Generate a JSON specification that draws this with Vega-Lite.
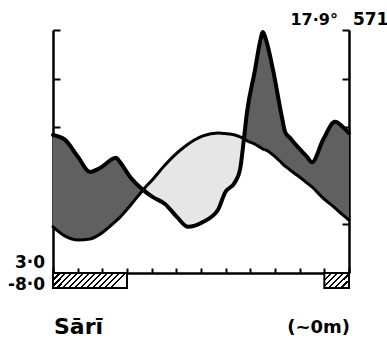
{
  "$schema": "https://vega.github.io/schema/vega-lite/v6.json",
  "width": 296,
  "height": 243,
  "autosize": {"type": "none"},
  "padding": {"left": 53, "top": 30, "right": 38, "bottom": 73},
  "background": "white",
  "config": {
    "view": {"stroke": null},
    "axis": {"labels": false, "grid": false, "domainColor": "black", "domainWidth": 2.5, "tickColor": "black", "tickWidth": 2, "zindex": 1},
    "axisX": {"tickSize": -5, "tickCount": 12},
    "axisY": {"tickSize": -7, "tickCount": 5}
  },
  "datasets": {
    "climate": [
      {"m": 0, "p": 28.4, "t": 9.5},
      {"m": 0.49, "p": 27.4, "t": 7.6},
      {"m": 1.01, "p": 23.9, "t": 6.8},
      {"m": 1.5, "p": 20.8, "t": 7.0},
      {"m": 1.91, "p": 21.6, "t": 8.0},
      {"m": 2.55, "p": 23.7, "t": 10.7},
      {"m": 2.72, "p": 22.8, "t": 11.5},
      {"m": 3.12, "p": 19.8, "t": 13.8},
      {"m": 3.65, "p": 17.1, "t": 17.1},
      {"m": 4.05, "p": 15.6, "t": 19.3},
      {"m": 4.54, "p": 14.2, "t": 22.2},
      {"m": 5.03, "p": 11.5, "t": 24.7},
      {"m": 5.47, "p": 9.5, "t": 26.5},
      {"m": 6.08, "p": 10.5, "t": 28.2},
      {"m": 6.69, "p": 13.0, "t": 28.8},
      {"m": 6.97, "p": 16.5, "t": 28.7},
      {"m": 7.38, "p": 18.7, "t": 28.4},
      {"m": 7.58, "p": 21.2, "t": 28.0},
      {"m": 7.74, "p": 27.6, "t": 27.6},
      {"m": 7.86, "p": 32.9, "t": 27.2},
      {"m": 8.19, "p": 41.8, "t": 26.5},
      {"m": 8.39, "p": 47.5, "t": 25.9},
      {"m": 8.51, "p": 49.6, "t": 25.5},
      {"m": 8.64, "p": 47.9, "t": 25.3},
      {"m": 8.92, "p": 41.8, "t": 24.3},
      {"m": 9.28, "p": 32.1, "t": 22.6},
      {"m": 9.41, "p": 29.0, "t": 22.0},
      {"m": 9.61, "p": 27.8, "t": 21.2},
      {"m": 9.93, "p": 25.9, "t": 20.0},
      {"m": 10.3, "p": 23.9, "t": 18.5},
      {"m": 10.5, "p": 22.8, "t": 17.7},
      {"m": 10.95, "p": 27.4, "t": 15.4},
      {"m": 11.43, "p": 31.1, "t": 13.4},
      {"m": 11.76, "p": 30.0, "t": 11.9},
      {"m": 12, "p": 28.8, "t": 10.9}
    ]
  },
  "resolve": {"axis": {"y": "independent"}},
  "layer": [
    {
      "data": {"name": "climate"},
      "transform": [{"filter": {"field": "m", "range": [0, 3.65]}}],
      "mark": {"type": "area", "interpolate": "monotone", "fill": "#606060"},
      "encoding": {
        "x": {"field": "m", "type": "quantitative", "title": null, "scale": {"domain": [0, 12], "nice": false, "zero": false}},
        "y": {"field": "p", "type": "quantitative", "title": null, "scale": {"domain": [0, 50], "nice": false, "zero": false}, "axis": {"orient": "left"}},
        "y2": {"field": "t"}
      }
    },
    {
      "data": {"name": "climate"},
      "transform": [{"filter": {"field": "m", "range": [3.65, 7.74]}}],
      "mark": {"type": "area", "interpolate": "monotone", "fill": "#e6e6e6"},
      "encoding": {
        "x": {"field": "m", "type": "quantitative", "title": null, "scale": {"domain": [0, 12], "nice": false, "zero": false}},
        "y": {"field": "p", "type": "quantitative", "title": null, "scale": {"domain": [0, 50], "nice": false, "zero": false}, "axis": null},
        "y2": {"field": "t"}
      }
    },
    {
      "data": {"name": "climate"},
      "transform": [{"filter": {"field": "m", "range": [7.74, 12]}}],
      "mark": {"type": "area", "interpolate": "monotone", "fill": "#606060"},
      "encoding": {
        "x": {"field": "m", "type": "quantitative", "title": null, "scale": {"domain": [0, 12], "nice": false, "zero": false}},
        "y": {"field": "p", "type": "quantitative", "title": null, "scale": {"domain": [0, 50], "nice": false, "zero": false}, "axis": null},
        "y2": {"field": "t"}
      }
    },
    {
      "data": {"values": [{"m": 0, "m1": 3}]},
      "mark": {
        "type": "rect", "stroke": "black", "strokeWidth": 2,
        "fill": {"gradient": "linear", "x1": 0, "y1": 0, "x2": 1, "y2": 0.2, "stops": [
          {"offset": 0, "color": "black"}, {"offset": 0.027, "color": "black"}, {"offset": 0.027, "color": "white"},
          {"offset": 0.0769, "color": "white"}, {"offset": 0.0769, "color": "black"}, {"offset": 0.1039, "color": "black"}, {"offset": 0.1039, "color": "white"},
          {"offset": 0.1538, "color": "white"}, {"offset": 0.1538, "color": "black"}, {"offset": 0.1808, "color": "black"}, {"offset": 0.1808, "color": "white"},
          {"offset": 0.2308, "color": "white"}, {"offset": 0.2308, "color": "black"}, {"offset": 0.2578, "color": "black"}, {"offset": 0.2578, "color": "white"},
          {"offset": 0.3077, "color": "white"}, {"offset": 0.3077, "color": "black"}, {"offset": 0.3347, "color": "black"}, {"offset": 0.3347, "color": "white"},
          {"offset": 0.3846, "color": "white"}, {"offset": 0.3846, "color": "black"}, {"offset": 0.4116, "color": "black"}, {"offset": 0.4116, "color": "white"},
          {"offset": 0.4615, "color": "white"}, {"offset": 0.4615, "color": "black"}, {"offset": 0.4885, "color": "black"}, {"offset": 0.4885, "color": "white"},
          {"offset": 0.5385, "color": "white"}, {"offset": 0.5385, "color": "black"}, {"offset": 0.5655, "color": "black"}, {"offset": 0.5655, "color": "white"},
          {"offset": 0.6154, "color": "white"}, {"offset": 0.6154, "color": "black"}, {"offset": 0.6424, "color": "black"}, {"offset": 0.6424, "color": "white"},
          {"offset": 0.6923, "color": "white"}, {"offset": 0.6923, "color": "black"}, {"offset": 0.7193, "color": "black"}, {"offset": 0.7193, "color": "white"},
          {"offset": 0.7692, "color": "white"}, {"offset": 0.7692, "color": "black"}, {"offset": 0.7962, "color": "black"}, {"offset": 0.7962, "color": "white"},
          {"offset": 0.8462, "color": "white"}, {"offset": 0.8462, "color": "black"}, {"offset": 0.8732, "color": "black"}, {"offset": 0.8732, "color": "white"},
          {"offset": 0.9231, "color": "white"}, {"offset": 0.9231, "color": "black"}, {"offset": 0.9501, "color": "black"}, {"offset": 0.9501, "color": "white"},
          {"offset": 1, "color": "white"}
        ]}
      },
      "encoding": {
        "x": {"field": "m", "type": "quantitative", "title": null, "scale": {"domain": [0, 12], "nice": false, "zero": false}},
        "x2": {"field": "m1"},
        "y": {"datum": 0, "type": "quantitative", "scale": {"domain": [0, 50], "nice": false, "zero": false}, "axis": null},
        "y2": {"datum": -3.09}
      }
    },
    {
      "data": {"values": [{"m": 11, "m1": 12}]},
      "mark": {
        "type": "rect", "stroke": "black", "strokeWidth": 2,
        "fill": {"gradient": "linear", "x1": 0, "y1": 0, "x2": 1, "y2": 0.625, "stops": [
          {"offset": 0, "color": "black"}, {"offset": 0.063, "color": "black"}, {"offset": 0.063, "color": "white"},
          {"offset": 0.18, "color": "white"}, {"offset": 0.18, "color": "black"}, {"offset": 0.243, "color": "black"}, {"offset": 0.243, "color": "white"},
          {"offset": 0.36, "color": "white"}, {"offset": 0.36, "color": "black"}, {"offset": 0.423, "color": "black"}, {"offset": 0.423, "color": "white"},
          {"offset": 0.54, "color": "white"}, {"offset": 0.54, "color": "black"}, {"offset": 0.603, "color": "black"}, {"offset": 0.603, "color": "white"},
          {"offset": 0.72, "color": "white"}, {"offset": 0.72, "color": "black"}, {"offset": 0.783, "color": "black"}, {"offset": 0.783, "color": "white"},
          {"offset": 0.9, "color": "white"}, {"offset": 0.9, "color": "black"}, {"offset": 0.963, "color": "black"}, {"offset": 0.963, "color": "white"},
          {"offset": 1, "color": "white"}
        ]}
      },
      "encoding": {
        "x": {"field": "m", "type": "quantitative", "title": null, "scale": {"domain": [0, 12], "nice": false, "zero": false}},
        "x2": {"field": "m1"},
        "y": {"datum": 0, "type": "quantitative", "scale": {"domain": [0, 50], "nice": false, "zero": false}, "axis": null},
        "y2": {"datum": -3.09}
      }
    },
    {
      "data": {"name": "climate"},
      "mark": {"type": "line", "interpolate": "monotone", "color": "black", "strokeWidth": 3, "strokeCap": "round", "strokeJoin": "round"},
      "encoding": {
        "x": {"field": "m", "type": "quantitative", "title": null, "scale": {"domain": [0, 12], "nice": false, "zero": false}},
        "y": {"field": "t", "type": "quantitative", "title": null, "scale": {"domain": [0, 50], "nice": false, "zero": false}, "axis": {"orient": "right"}}
      }
    },
    {
      "data": {"name": "climate"},
      "mark": {"type": "line", "interpolate": "monotone", "color": "black", "strokeWidth": 4, "strokeCap": "round", "strokeJoin": "round"},
      "encoding": {
        "x": {"field": "m", "type": "quantitative", "title": null, "scale": {"domain": [0, 12], "nice": false, "zero": false}},
        "y": {"field": "p", "type": "quantitative", "title": null, "scale": {"domain": [0, 50], "nice": false, "zero": false}, "axis": null}
      }
    },
    {
      "data": {"values": [{"lab": "3·0", "m": -0.32, "v": 1.03}, {"lab": "-8·0", "m": -0.32, "v": -3.45}]},
      "mark": {"type": "text", "font": "DejaVu Sans", "fontWeight": "bold", "fontSize": 17, "align": "right", "baseline": "alphabetic", "color": "black"},
      "encoding": {
        "x": {"field": "m", "type": "quantitative", "title": null, "scale": {"domain": [0, 12], "nice": false, "zero": false}},
        "y": {"field": "v", "type": "quantitative", "title": null, "scale": {"domain": [0, 50], "nice": false, "zero": false}, "axis": null},
        "text": {"field": "lab"}
      }
    },
    {
      "data": {"values": [{"lab": "17·9°", "m": 11.55, "v": 51.03}]},
      "mark": {"type": "text", "font": "DejaVu Sans", "fontWeight": "bold", "fontSize": 16, "align": "right", "baseline": "alphabetic", "color": "black"},
      "encoding": {
        "x": {"field": "m", "type": "quantitative", "title": null, "scale": {"domain": [0, 12], "nice": false, "zero": false}},
        "y": {"field": "v", "type": "quantitative", "title": null, "scale": {"domain": [0, 50], "nice": false, "zero": false}, "axis": null},
        "text": {"field": "lab"}
      }
    },
    {
      "data": {"values": [{"lab": "571", "m": 12.16, "v": 51.03}]},
      "mark": {"type": "text", "font": "DejaVu Sans", "fontWeight": "bold", "fontSize": 17, "align": "left", "baseline": "alphabetic", "color": "black"},
      "encoding": {
        "x": {"field": "m", "type": "quantitative", "title": null, "scale": {"domain": [0, 12], "nice": false, "zero": false}},
        "y": {"field": "v", "type": "quantitative", "title": null, "scale": {"domain": [0, 50], "nice": false, "zero": false}, "axis": null},
        "text": {"field": "lab"}
      }
    },
    {
      "data": {"values": [{"lab": "Sārī", "m": 0.04, "v": -12.55}]},
      "mark": {"type": "text", "font": "DejaVu Sans", "fontWeight": "bold", "fontSize": 22, "align": "left", "baseline": "alphabetic", "color": "black"},
      "encoding": {
        "x": {"field": "m", "type": "quantitative", "title": null, "scale": {"domain": [0, 12], "nice": false, "zero": false}},
        "y": {"field": "v", "type": "quantitative", "title": null, "scale": {"domain": [0, 50], "nice": false, "zero": false}, "axis": null},
        "text": {"field": "lab"}
      }
    },
    {
      "data": {"values": [{"lab": "(~0m)", "m": 12.04, "v": -12.35}]},
      "mark": {"type": "text", "font": "DejaVu Sans", "fontWeight": "bold", "fontSize": 18, "align": "right", "baseline": "alphabetic", "color": "black"},
      "encoding": {
        "x": {"field": "m", "type": "quantitative", "title": null, "scale": {"domain": [0, 12], "nice": false, "zero": false}},
        "y": {"field": "v", "type": "quantitative", "title": null, "scale": {"domain": [0, 50], "nice": false, "zero": false}, "axis": null},
        "text": {"field": "lab"}
      }
    }
  ]
}
